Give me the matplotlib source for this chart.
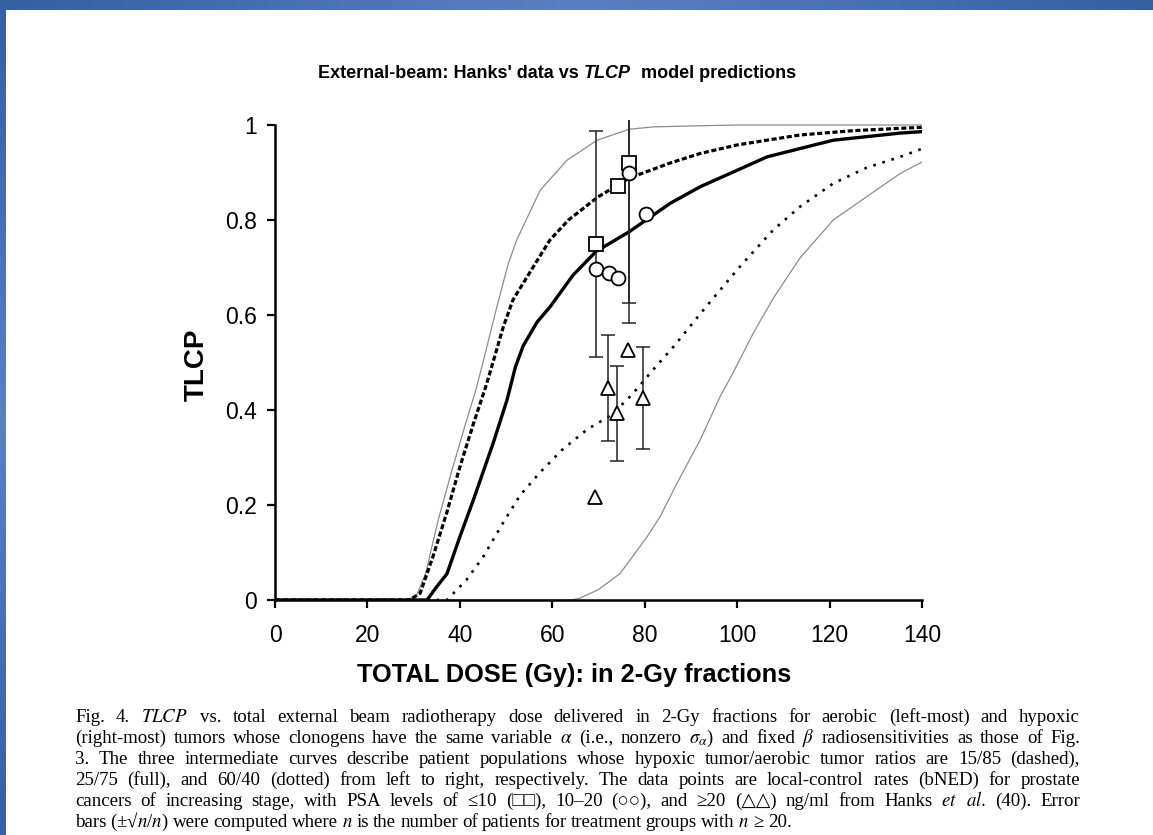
import numpy as np
import matplotlib.pyplot as plt
from matplotlib.colors import LinearSegmentedColormap

plt.rcParams['font.family'] = ['Liberation Sans', 'DejaVu Sans']

# Model curves: total dose (Gy) vs TLCP
aerobic_dose = [0, 28, 30.5, 32.6, 35.3, 38.2, 41.2, 43.4, 45.0, 48.0, 50.5, 52.3,
                57.4, 63.2, 69.7, 76.6, 81.8, 90, 100, 140]
aerobic_tlcp = [0, 0, 0.007, 0.056, 0.168, 0.27, 0.37, 0.44, 0.50, 0.617, 0.709, 0.758,
                0.863, 0.926, 0.968, 0.991, 0.996, 0.998, 1.0, 1.0]

hyp15_dose = [0, 29, 31.4, 34.2, 37.2, 40.0, 42.9, 45.8, 49.4, 51.5, 55.8, 59.5, 63.5,
              69.8, 76.6, 85.5, 92, 100, 113.6, 125, 135.3, 140]
hyp15_tlcp = [0, 0, 0.014, 0.092, 0.185, 0.28, 0.37, 0.455, 0.575, 0.632, 0.70, 0.758, 0.80,
              0.848, 0.888, 0.92, 0.94, 0.958, 0.979, 0.988, 0.993, 0.995]

hyp25_dose = [0, 32.9, 35, 37.2, 40, 42.9, 47.2, 50.2, 52.0, 53.7, 56.7, 59.5, 64.5, 69.5,
              76.6, 85.5, 92, 106.5, 120.8, 135.3, 140]
hyp25_tlcp = [0, 0, 0.028, 0.055, 0.133, 0.21, 0.33, 0.421, 0.49, 0.535, 0.585, 0.617, 0.684,
              0.734, 0.775, 0.835, 0.87, 0.933, 0.968, 0.983, 0.986]

hyp60_dose = [0, 37.2, 41.4, 45, 49.2, 53, 57.2, 62, 67.4, 72, 74.6, 77, 79.6, 81.2, 86.2,
              93.5, 100.6, 107.8, 113.6, 120.8, 128, 135.3, 140]
hyp60_tlcp = [0, 0, 0.042, 0.09, 0.16, 0.22, 0.267, 0.315, 0.358, 0.385, 0.407, 0.43, 0.459,
              0.478, 0.533, 0.62, 0.702, 0.779, 0.828, 0.877, 0.91, 0.933, 0.95]

hypoxic_dose = [0, 64, 66, 70, 74.7, 80.5, 83.3, 87, 92, 96.3, 99.1, 103.5, 107.8, 113.6,
                120.8, 128, 135.3, 140]
hypoxic_tlcp = [0, 0, 0.004, 0.022, 0.056, 0.133, 0.175, 0.246, 0.337, 0.428, 0.478, 0.562,
                0.635, 0.72, 0.80, 0.849, 0.898, 0.922]

# Hanks' local-control data by PSA level (None = no error bar)
psa_low_dose = [69.4, 74.2, 76.6]
psa_low_tlcp = [0.749, 0.872, 0.921]
psa_low_err = [0.238, None, 0.296]

psa_mid_dose = [69.4, 72.2, 74.2, 76.6, 80.2]
psa_mid_tlcp = [0.697, 0.688, 0.677, 0.90, 0.812]
psa_mid_err = [None, None, None, 0.317, None]

psa_high_dose = [69.3, 72.1, 74.0, 76.4, 79.7]
psa_high_tlcp = [0.217, 0.446, 0.393, 0.526, 0.425]
psa_high_err = [None, 0.112, 0.1, None, 0.107]

x_ticks = [0, 20, 40, 60, 80, 100, 120, 140]
y_ticks = [0, 0.2, 0.4, 0.6, 0.8, 1]
y_ticklabels = ['0', '0.2', '0.4', '0.6', '0.8', '1']

caption = [
    r"Fig. 4. $\mathit{TLCP}$ vs. total external beam radiotherapy dose delivered in 2-Gy fractions for aerobic (left-most) and hypoxic",
    r"(right-most) tumors whose clonogens have the same variable $\alpha$ (i.e., nonzero $\sigma_\alpha$) and fixed $\beta$ radiosensitivities as those of Fig.",
    r"3. The three intermediate curves describe patient populations whose hypoxic tumor/aerobic tumor ratios are 15/85 (dashed),",
    r"25/75 (full), and 60/40 (dotted) from left to right, respectively. The data points are local-control rates (bNED) for prostate",
    r"cancers of increasing stage, with PSA levels of ≤10 (□□), 10–20 (○○), and ≥20 (△△) ng/ml from Hanks $\mathit{et}$ $\mathit{al.}$ (40). Error",
    r"bars (±√$n$/$n$) were computed where $n$ is the number of patients for treatment groups with $n$ ≥ 20.",
]

W, H = 1153, 835
fig = plt.figure(figsize=(W / 100, H / 100), dpi=100)

# blue slide frame along the top and left edges
frame = LinearSegmentedColormap.from_list('frame', ['#3560a2', '#5a80c2', '#3560a2'])
top = fig.add_axes([0, 1 - 10 / H, 1, 10 / H])
top.imshow(np.linspace(0, 1, 256)[None, :], cmap=frame, aspect='auto')
top.axis('off')
left = fig.add_axes([0, 0, 6 / W, 1 - 10 / H])
left.imshow(np.linspace(0.0, 0.3, 64)[:, None], cmap=frame, aspect='auto')
left.axis('off')

ax = fig.add_axes([275 / W, (H - 600) / H, 647 / W, 475 * 1.01 / H])

ax.plot(aerobic_dose, aerobic_tlcp, color='#8c8c8c', lw=0.9)
ax.plot(hypoxic_dose, hypoxic_tlcp, color='#8c8c8c', lw=0.9)
ax.plot(hyp15_dose, hyp15_tlcp, color='black', lw=2.3, dashes=(1.6, 0.8))
ax.plot(hyp25_dose, hyp25_tlcp, color='black', lw=2.4)
ax.plot(hyp60_dose, hyp60_tlcp, color='black', lw=1.9, dashes=(1.0, 2.6))


def draw_group(dose, tlcp, err, marker, ms):
    ex = [d for d, e in zip(dose, err) if e is not None]
    ey = [t for t, e in zip(tlcp, err) if e is not None]
    ee = [e for e in err if e is not None]
    ax.errorbar(ex, ey, yerr=ee, fmt='none', ecolor='#222222', elinewidth=1.1,
                capsize=5, capthick=1.1, zorder=3)
    ax.plot(dose, tlcp, linestyle='none', marker=marker, ms=ms, mfc='white',
            mec='black', mew=1.3, zorder=4)


draw_group(psa_low_dose, psa_low_tlcp, psa_low_err, 's', 9.5)
draw_group(psa_mid_dose, psa_mid_tlcp, psa_mid_err, 'o', 10)
draw_group(psa_high_dose, psa_high_tlcp, psa_high_err, '^', 10)

ax.set_xlim(0, 140)
ax.set_ylim(0, 1.01)
ax.set_xticks(x_ticks)
ax.set_yticks(y_ticks)
ax.set_yticklabels(y_ticklabels)
for s in ['top', 'right']:
    ax.spines[s].set_visible(False)
for s in ['left', 'bottom']:
    ax.spines[s].set_linewidth(1.8)
ax.spines['left'].set_bounds(0, 1)
ax.tick_params(axis='both', direction='out', width=1.6, labelsize=16.5)
ax.tick_params(axis='x', length=6, pad=11)
ax.tick_params(axis='y', length=6, pad=7)

fig.text(574 / W, 1 - 675 / H, 'TOTAL DOSE (Gy): in 2-Gy fractions', ha='center', va='center',
         fontsize=18.3, fontweight='bold')
fig.text(197 / W, 1 - 365 / H, 'TLCP', ha='center', va='center', rotation=90,
         fontsize=20, fontweight='bold')

# title with italic model name
t1 = fig.text(318 / W, 1 - 82 / H, "External-beam: Hanks' data vs ", ha='left',
              va='bottom', fontsize=13, fontweight='bold')
t2 = ax.annotate('TLCP', xy=(1, 0), xycoords=t1, ha='left', va='bottom', fontsize=13,
                 fontweight='bold', fontstyle='italic', annotation_clip=False)
ax.annotate('  model predictions', xy=(1, 0), xycoords=t2, ha='left', va='bottom',
            fontsize=13, fontweight='bold', annotation_clip=False)

# justified caption, one text object per word, words share a baseline
cap_kw = dict(fontsize=13.6, family=['Liberation Serif', 'DejaVu Sans'],
              math_fontfamily='stix', va='baseline', ha='left')
renderer = fig.canvas.get_renderer()
x0, x1 = 75 / W, 1080 / W
for i, line in enumerate(caption):
    y = 1 - (722 + 21 * i) / H
    words = line.split(' ')
    texts = [fig.text(x0, y, w, **cap_kw) for w in words]
    widths = [t.get_window_extent(renderer).width / W for t in texts]
    if i < len(caption) - 1:
        gap = (x1 - x0 - sum(widths)) / (len(words) - 1)
    else:
        gap = 4.0 / W
    x = x0
    for t, w in zip(texts, widths):
        t.set_x(x)
        x += w + gap

fig.savefig('out.png', dpi=100)
